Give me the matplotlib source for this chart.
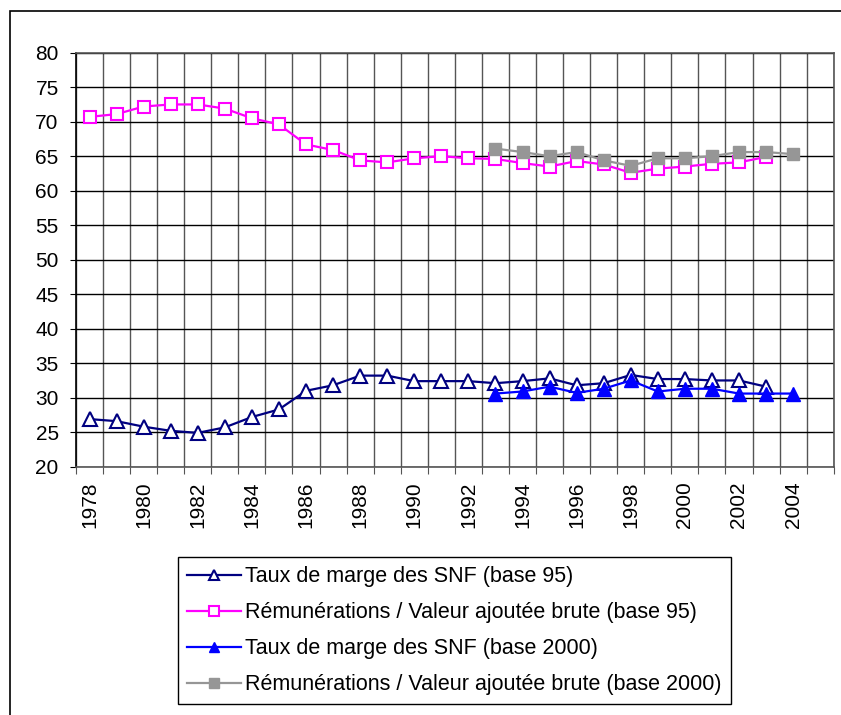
import matplotlib
matplotlib.use("Agg")
import matplotlib.pyplot as plt
from matplotlib.patches import Rectangle
import numpy as np

plt.rcParams['font.family'] = ['Liberation Sans', 'DejaVu Sans']

categories = list(range(1978, 2006))

years_95 = list(range(1978, 2004))
taux_95 = [26.9, 26.6, 25.8, 25.2, 24.9, 25.7, 27.2, 28.3, 31.0, 31.8, 33.2, 33.2, 32.4,
           32.4, 32.4, 32.1, 32.4, 32.8, 31.8, 32.1, 33.3, 32.7, 32.7, 32.5, 32.5, 31.6]
remu_95 = [70.7, 71.1, 72.2, 72.5, 72.5, 71.9, 70.5, 69.6, 66.7, 65.9, 64.4, 64.1, 64.7,
           65.0, 64.7, 64.6, 64.0, 63.5, 64.3, 63.8, 62.6, 63.2, 63.5, 63.9, 64.1, 64.9]

years_2000 = list(range(1993, 2005))
taux_2000 = [30.6, 30.9, 31.6, 30.7, 31.3, 32.5, 30.9, 31.3, 31.3, 30.6, 30.6, 30.6]
remu_2000 = [66.1, 65.6, 65.0, 65.6, 64.4, 63.6, 64.7, 64.7, 65.0, 65.6, 65.6, 65.3]

labels = ["Taux de marge des SNF (base 95)",
          "Rémunérations / Valeur ajoutée brute (base 95)",
          "Taux de marge des SNF (base 2000)",
          "Rémunérations / Valeur ajoutée brute (base 2000)"]

def pos(years):
    return [categories.index(y) for y in years]

fig = plt.figure(figsize=(8.41, 7.15), dpi=100)
# outer chart border (left/top)
fig.add_artist(Rectangle((9.5/841, -0.1), 1.2, 1 - 10.7/715 + 0.1, transform=fig.transFigure,
                         fill=False, edgecolor='black', linewidth=1.2))

ax = fig.add_axes([76/841, 1 - 466.7/715, (833.7 - 76)/841, (466.7 - 52.7)/715])
ax.set_xlim(-0.5, len(categories) - 0.5)
ax.set_ylim(20, 80)

# gridlines
for x in np.arange(-0.5, len(categories), 1.0):
    ax.axvline(x, color='#555555', linewidth=1.0, zorder=0)
for y in range(20, 81, 5):
    ax.axhline(y, color='black', linewidth=1.0, zorder=0)

l1, = ax.plot(pos(years_95), taux_95, color='#000080', linewidth=1.6, marker='^', ms=10,
              mfc='white', mec='#000080', mew=1.5, zorder=3)
l2, = ax.plot(pos(years_95), remu_95, color='#FF00FF', linewidth=1.6, marker='s', ms=9,
              mfc='white', mec='#FF00FF', mew=1.5, zorder=4)
l3, = ax.plot(pos(years_2000), taux_2000, color='#0000FF', linewidth=1.6, marker='^', ms=10,
              mfc='#0000FF', mec='#0000FF', zorder=5)
l4, = ax.plot(pos(years_2000), remu_2000, color='#969696', linewidth=1.6, marker='s', ms=9,
              mfc='#969696', mec='#969696', zorder=6)

ax.set_yticks(range(20, 81, 5))
ax.set_xticks(np.arange(-0.5, len(categories), 1.0), minor=False)
ax.set_xticklabels([])
ax.tick_params(axis='x', which='major', length=5, color='#555555', direction='out')
ax.set_xticks(range(0, len(categories)), minor=True)
ax.set_xticklabels([str(c) if c % 2 == 0 and c <= 2004 else '' for c in categories],
                   minor=True, rotation=90, fontsize=15)
ax.tick_params(axis='x', which='minor', length=0, pad=10.5)
ax.tick_params(axis='y', length=4.5, labelsize=15, pad=8, direction='out')
for s in ax.spines.values():
    s.set_color('#555555')
    s.set_linewidth(1.2)
ax.spines['left'].set_color('black')

leg = fig.legend([l1, l2, l3, l4], labels, loc='upper left',
                 bbox_to_anchor=(178/841, 1 - 557/715), fontsize=15.5,
                 frameon=True, fancybox=False, edgecolor='black', framealpha=1,
                 handlelength=2.5, handletextpad=0.2, labelspacing=0.7,
                 borderpad=0.42, borderaxespad=0, markerscale=0.75)
leg.get_frame().set_linewidth(1.0)

fig.savefig("out.png", dpi=100)
